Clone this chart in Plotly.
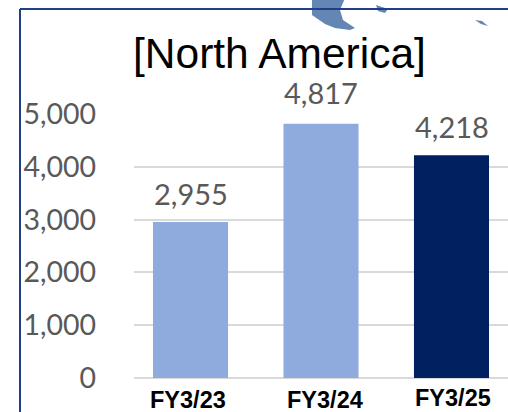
import plotly.graph_objects as go

categories = ["FY3/23", "FY3/24", "FY3/25"]
values = [2955, 4817, 4218]
bar_colors = ["#8faadc", "#8faadc", "#002060"]
tick_values = [0, 1000, 2000, 3000, 4000, 5000]
tick_labels = ["0", "1,000", "2,000", "3,000", "4,000", "5,000"]
cat_shift_x = [-2.5, 3.5, 1]
cat_y = [400, 400, 398]
label_shift_y = [28, 31, 29]

W, H = 508, 412
L, R, T, B = 134, 508, 114, 378
fig = go.Figure(go.Bar(
    x=[0, 1, 2], y=values, width=0.575, marker=dict(color=bar_colors, line_width=0),
    cliponaxis=False, hoverinfo="skip"))


def px(x):
    return (x - L) / (R - L)


def py(y):
    return (B - y) / (B - T)


shapes = []
map_paths = [
    [(312, -2), (345, -2), (340, 10), (343, 20), (355, 28), (350, 30), (335, 28), (325, 24), (312, 15)],
    [(376, 5), (382, 7), (388, 9), (385, 13), (378, 11)],
    [(475, 20), (482, 21), (488, 26), (481, 24)],
]
for p in map_paths:
    d = "M " + " L ".join(f"{px(x):.4f},{py(y):.4f}" for x, y in p) + " Z"
    shapes.append(dict(type="path", xref="paper", yref="paper", path=d,
                       fillcolor="#6486b4", line_width=0, layer="above"))
shapes += [
    dict(type="line", xref="paper", yref="paper", x0=px(20), x1=px(20), y0=py(9), y1=py(414),
         line=dict(color="#1f3f86", width=2)),
    dict(type="line", xref="paper", yref="paper", x0=px(20), x1=px(510), y0=py(9), y1=py(9),
         line=dict(color="#1f3f86", width=2)),
]

annotations = [dict(x=i, xref="x", y=py(cat_y[i]), yref="paper", text=f"<b>{c}</b>", xshift=cat_shift_x[i],
                    showarrow=False, xanchor="center", yanchor="middle",
                    font=dict(family="Liberation Sans", size=23.5, color="#000000"))
               for i, c in enumerate(categories)]
annotations += [dict(x=i, y=v, xref="x", yref="y", yshift=label_shift_y[i], text=f"{v:,}", showarrow=False,
                     xanchor="center", yanchor="middle",
                     font=dict(family="Lato", size=29, color="#595959"))
                for i, v in enumerate(values)]
annotations.append(dict(x=px(279.5), y=py(53), xref="paper", yref="paper", text="[North America]",
                        showarrow=False, xanchor="center", yanchor="middle",
                        font=dict(family="Liberation Sans", size=42.5, color="#000000")))

fig.update_layout(
    width=W, height=H, autosize=False, showlegend=False, paper_bgcolor="white", plot_bgcolor="white",
    margin=dict(l=L, r=W - R, t=T, b=H - B), shapes=shapes, annotations=annotations,
    xaxis=dict(range=[-0.433, 2.433], showticklabels=False, showgrid=False, zeroline=False, ticks=""),
    yaxis=dict(range=[0, 5000], tickmode="array", tickvals=tick_values, ticktext=tick_labels,
               gridcolor="#d9d9d9", gridwidth=2, zeroline=True, zerolinecolor="#d9d9d9", zerolinewidth=2,
               showline=False, ticks="", ticklabelstandoff=37,
               tickfont=dict(family="Lato", size=28.5, color="#595959"), automargin=False),
)
fig.write_html("out.html", config={"displayModeBar": False},
               post_script="document.body.style.margin='0';document.body.style.overflow='hidden';")
